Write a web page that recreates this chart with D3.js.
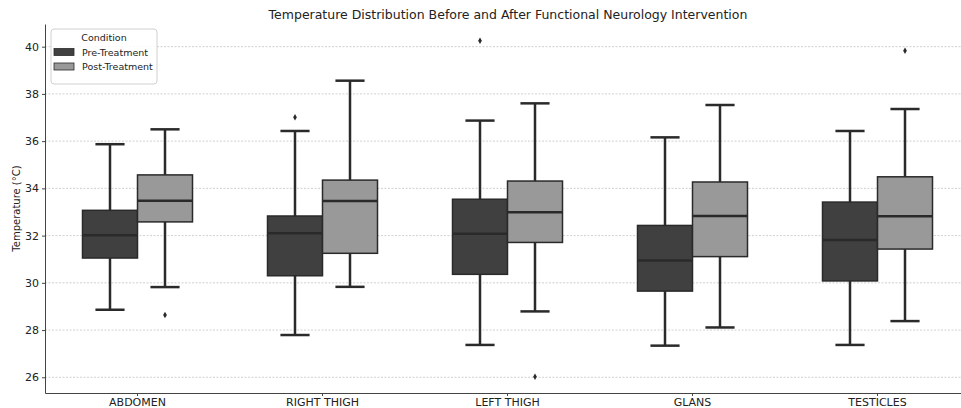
<!DOCTYPE html>
<html>
<head>
<meta charset="utf-8">
<script src="https://cdn.jsdelivr.net/npm/d3@7"></script>
<style>
  body { margin: 0; background: #fff; }
  text { font-family: "DejaVu Sans", sans-serif; fill: #222; }
</style>
</head>
<body>
<div id="chart"></div>
<script>
const sites = ["ABDOMEN", "RIGHT THIGH", "LEFT THIGH", "GLANS", "TESTICLES"];
const conditions = ["Pre-Treatment", "Post-Treatment"];

// box stats
const preLow    = [28.86, 27.79, 27.37, 27.34, 27.37];
const preQ1     = [31.05, 30.30, 30.36, 29.65, 30.08];
const preMedian = [32.02, 32.10, 32.08, 30.95, 31.81];
const preQ3     = [33.07, 32.83, 33.54, 32.43, 33.42];
const preHigh   = [35.87, 36.43, 36.87, 36.16, 36.43];
const preOutliers = [[], [37.01], [40.25], [], []];

const postLow    = [29.82, 29.83, 28.79, 28.11, 28.38];
const postQ1     = [32.58, 31.25, 31.71, 31.11, 31.43];
const postMedian = [33.48, 33.46, 32.99, 32.83, 32.82];
const postQ3     = [34.57, 34.35, 34.31, 34.27, 34.49];
const postHigh   = [36.50, 38.56, 37.60, 37.53, 37.36];
const postOutliers = [[28.64], [], [26.02], [], [39.83]];

const yTicks = [26, 28, 30, 32, 34, 36, 38, 40];

const W = 961, H = 408;
const m = { l: 45, r: -9, t: 24, b: 15 };

const boxes = [];
sites.forEach((s, i) => {
  boxes.push({ site: s, cond: conditions[0], low: preLow[i], q1: preQ1[i], med: preMedian[i], q3: preQ3[i], high: preHigh[i], out: preOutliers[i] });
  boxes.push({ site: s, cond: conditions[1], low: postLow[i], q1: postQ1[i], med: postMedian[i], q3: postQ3[i], high: postHigh[i], out: postOutliers[i] });
});

const color = d3.scaleOrdinal().domain(conditions).range(["#404040", "#999999"]);
const edge = "#2a2a2a";

const svg = d3.select("#chart").append("svg").attr("width", W).attr("height", H);

const x = d3.scaleBand().domain(sites).range([m.l, W - m.r]).padding(0);
const y = d3.scaleLinear().domain([25.335, 40.96]).range([H - m.b, m.t]);
const boxW = 55;
const sub = d3.scaleBand().domain(conditions).range([-boxW, boxW]).padding(0);

// grid
svg.append("g")
  .selectAll("line")
  .data(yTicks)
  .join("line")
    .attr("x1", m.l).attr("x2", W)
    .attr("y1", d => y(d)).attr("y2", d => y(d))
    .attr("stroke", "#c4c4c4")
    .attr("stroke-width", 0.8)
    .attr("stroke-dasharray", "2,1.5");

// axes
const yAxis = svg.append("g")
  .attr("transform", `translate(${m.l},0)`)
  .call(d3.axisLeft(y).tickValues(yTicks).tickSize(3).tickSizeOuter(0).tickPadding(3));
const xAxis = svg.append("g")
  .attr("transform", `translate(0,${H - m.b})`)
  .call(d3.axisBottom(x).tickSize(3).tickSizeOuter(0).tickPadding(2));
[yAxis, xAxis].forEach(a => {
  a.select(".domain").attr("stroke", "#444").attr("stroke-width", 1);
  a.selectAll(".tick line").attr("stroke", "#444");
  a.selectAll(".tick text").attr("font-size", 11).attr("fill", "#222");
});

const g = svg.append("g");
const box = g.selectAll("g.box")
  .data(boxes)
  .join("g")
    .attr("class", "box")
    .attr("transform", d => `translate(${x(d.site) + x.bandwidth() / 2 + sub(d.cond)},0)`);

const bw = sub.bandwidth();
const cap = bw * 0.53;

// whiskers
box.append("line")
  .attr("x1", bw / 2).attr("x2", bw / 2)
  .attr("y1", d => y(d.q3)).attr("y2", d => y(d.high))
  .attr("stroke", edge).attr("stroke-width", 2.5);
box.append("line")
  .attr("x1", bw / 2).attr("x2", bw / 2)
  .attr("y1", d => y(d.q1)).attr("y2", d => y(d.low))
  .attr("stroke", edge).attr("stroke-width", 2.5);
box.append("line")
  .attr("x1", bw / 2 - cap / 2).attr("x2", bw / 2 + cap / 2)
  .attr("y1", d => y(d.high)).attr("y2", d => y(d.high))
  .attr("stroke", edge).attr("stroke-width", 2.5);
box.append("line")
  .attr("x1", bw / 2 - cap / 2).attr("x2", bw / 2 + cap / 2)
  .attr("y1", d => y(d.low)).attr("y2", d => y(d.low))
  .attr("stroke", edge).attr("stroke-width", 2.5);

box.append("rect")
  .attr("x", 0).attr("width", bw)
  .attr("y", d => y(d.q3))
  .attr("height", d => y(d.q1) - y(d.q3))
  .attr("fill", d => color(d.cond))
  .attr("stroke", edge).attr("stroke-width", 1.5);

box.append("line")
  .attr("x1", 0).attr("x2", bw)
  .attr("y1", d => y(d.med)).attr("y2", d => y(d.med))
  .attr("stroke", edge).attr("stroke-width", 2.5);

box.selectAll("path.out")
  .data(d => d.out)
  .join("path")
    .attr("class", "out")
    .attr("d", d3.symbol(d3.symbolDiamond, 12))
    .attr("transform", d => `translate(${bw / 2},${y(d)})`)
    .attr("fill", edge);

// title and labels
svg.append("text")
  .attr("x", 508).attr("y", 19)
  .attr("text-anchor", "middle")
  .attr("font-size", 12.5)
  .text("Temperature Distribution Before and After Functional Neurology Intervention");

svg.append("text")
  .attr("transform", `translate(20,${(y(25.335) + y(40.96)) / 2}) rotate(-90)`)
  .attr("text-anchor", "middle")
  .attr("font-size", 10)
  .text("Temperature (°C)");

// legend
const lg = svg.append("g").attr("transform", "translate(51,29)");
lg.append("rect")
  .attr("width", 106).attr("height", 55).attr("rx", 3)
  .attr("fill", "#fff").attr("fill-opacity", 0.85)
  .attr("stroke", "#d0d0d0");
lg.append("text")
  .attr("x", 53).attr("y", 12)
  .attr("text-anchor", "middle")
  .attr("font-size", 9.5)
  .text("Condition");
const item = lg.selectAll("g.item")
  .data(conditions)
  .join("g")
    .attr("class", "item")
    .attr("transform", (d, i) => `translate(3,${23 + i * 14.5})`);
item.append("rect")
  .attr("width", 20).attr("height", 7).attr("y", -3.5)
  .attr("fill", d => color(d))
  .attr("stroke", edge).attr("stroke-width", 0.8);
item.append("text")
  .attr("x", 28).attr("y", 3.5)
  .attr("font-size", 9.5)
  .text(d => d);
</script>
</body>
</html>
